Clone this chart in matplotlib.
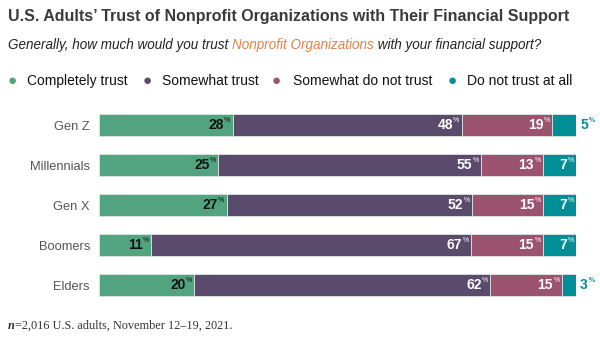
import numpy as np
import matplotlib.pyplot as plt

generations = ["Gen Z", "Millennials", "Gen X", "Boomers", "Elders"]
series = ["Completely trust", "Somewhat trust", "Somewhat do not trust", "Do not trust at all"]
completely = [28, 25, 27, 11, 20]
somewhat = [48, 55, 52, 67, 62]
somewhat_not = [19, 13, 15, 15, 15]
not_at_all = [5, 7, 7, 7, 3]

colors = ["#52a37f", "#5a4a6b", "#9b5370", "#008e97"]
label_colors = ["#111111", "white", "white", "white"]

plt.rcParams['font.family'] = ['Liberation Sans', 'DejaVu Sans']

fig = plt.figure(figsize=(6, 3.43), dpi=100)
ax = fig.add_axes([99 / 600, 1 - 305 / 343, 477 / 600, 200 / 343])

data = np.array([completely, somewhat, somewhat_not, not_at_all], dtype=float)
totals = data.sum(axis=0)
shares = data / totals * 100
y = np.arange(len(generations))

left = np.zeros(len(generations))
for i in range(len(series)):
    ax.barh(y, shares[i], left=left, height=0.53, color=colors[i],
            edgecolor="#dde6e2", linewidth=0.6)
    for j in range(len(generations)):
        end = left[j] + shares[i][j]
        val = int(data[i][j])
        if i == 3 and val < 6:
            # small segment: label sits outside the bar
            ax.annotate(str(val), (end, y[j]), xytext=(3, 0), textcoords="offset points",
                        ha="left", va="center", fontsize=10, fontweight="bold", color=colors[3])
            ax.annotate("%", (end, y[j]), xytext=(9.3, 3), textcoords="offset points",
                        ha="left", va="center", fontsize=5, fontweight="bold", color=colors[3])
        else:
            ax.annotate(str(val), (end, y[j]), xytext=(-6.3, 0), textcoords="offset points",
                        ha="right", va="center", fontsize=10, fontweight="bold", color=label_colors[i])
            ax.annotate("%", (end, y[j]), xytext=(-6.0, 3), textcoords="offset points",
                        ha="left", va="center", fontsize=5, color=label_colors[i])
    left += shares[i]

ax.set_xlim(0, 100)
ax.set_ylim(len(generations) - 0.5, -0.5)
ax.set_yticks(y)
ax.set_yticklabels(generations, fontsize=9.3, color="#555555")
ax.tick_params(axis="y", length=0, pad=6.5)
ax.set_xticks([])
for s in ax.spines.values():
    s.set_visible(False)

fig.text(8 / 600, 1 - 17 / 343, "U.S. Adults\u2019 Trust of Nonprofit Organizations with Their Financial Support",
         fontsize=11.5, fontweight="bold", color="#3a3a3a", va="center")

sub_y = 1 - 45 / 343
sub_size = 9.75
t1 = fig.text(8 / 600, sub_y, "Generally, how much would you trust ", fontsize=sub_size,
              style="italic", color="#222222", va="center")
fig.canvas.draw()
r = fig.canvas.get_renderer()
bb = t1.get_window_extent(r)
t2 = fig.text(bb.x1 / 600, sub_y, "Nonprofit Organizations", fontsize=sub_size,
              style="italic", color="#e0824a", va="center")
bb2 = t2.get_window_extent(r)
fig.text(bb2.x1 / 600, sub_y, " with your financial support?", fontsize=sub_size,
         style="italic", color="#222222", va="center")

leg_y = 1 - 81 / 343
leg_dot = [12, 147, 276, 452]
leg_txt = [27, 162, 293, 467]
for i, name in enumerate(series):
    fig.text(leg_dot[i] / 600, leg_y, "\u25cf", fontsize=11, color=colors[i], va="center", ha="center")
    fig.text(leg_txt[i] / 600, leg_y, name, fontsize=10, color="#111111", va="center")

fig.text(8 / 600, 1 - 326 / 343, "n", fontsize=8.8, family="Liberation Serif", style="italic",
         fontweight="bold", color="#333333", va="center")
fig.text(15 / 600, 1 - 326 / 343, "=2,016 U.S. adults, November 12\u201319, 2021.", fontsize=8.8,
         family="Liberation Serif", color="#333333", va="center")

fig.savefig("out.png", dpi=100)
